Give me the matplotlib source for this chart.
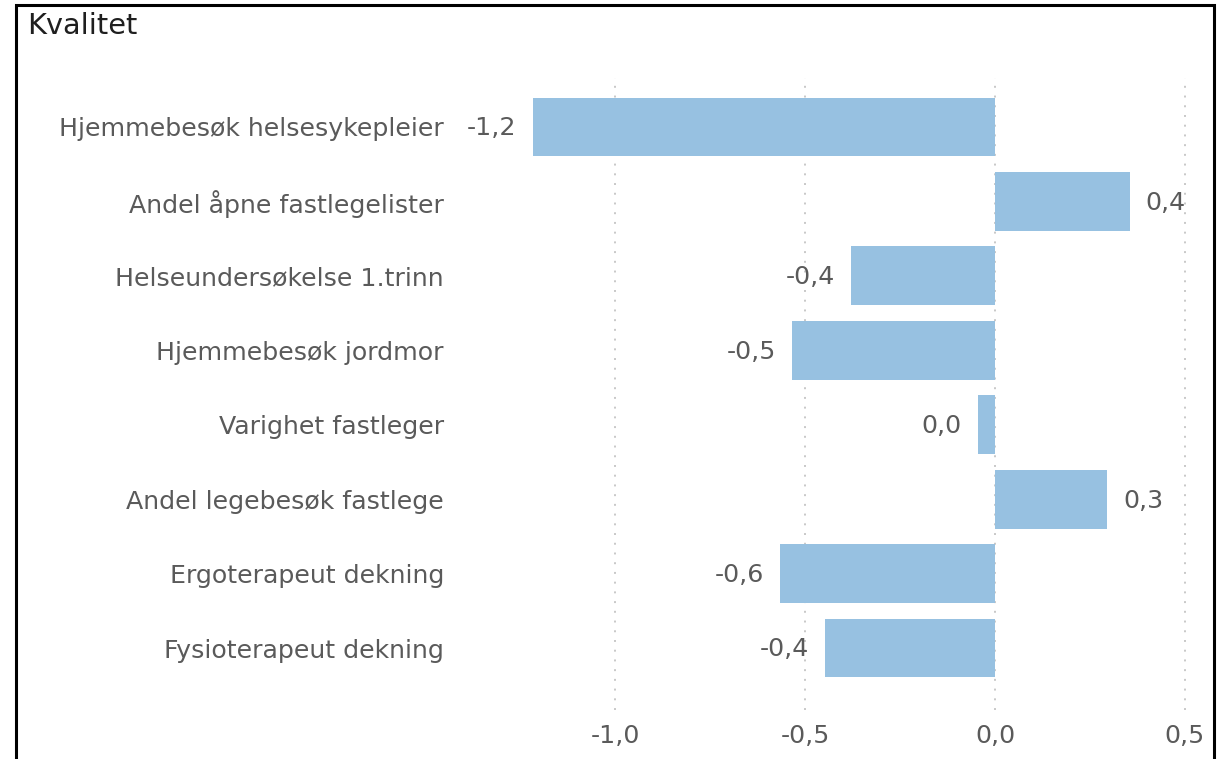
import matplotlib.pyplot as plt
from matplotlib.patches import Rectangle

# values
categories = [
    "Hjemmebesøk helsesykepleier",
    "Andel åpne fastlegelister",
    "Helseundersøkelse 1.trinn",
    "Hjemmebesøk jordmor",
    "Varighet fastleger",
    "Andel legebesøk fastlege",
    "Ergoterapeut dekning",
    "Fysioterapeut dekning",
]
values = [-1.217, 0.355, -0.38, -0.535, -0.045, 0.295, -0.566, -0.447]
xticks = [-1.0, -0.5, 0.0, 0.5]

W, H = 1226, 759
BAR_COLOR = "#97c1e1"
TEXT_GRAY = "#5a5a5a"
FS = 18.2

plt.rcParams["font.family"] = ["DejaVu Sans"]

fig = plt.figure(figsize=(W / 100, H / 100), dpi=100)

# axes placed in pixel terms (left, right, top, bottom)
left, right, top, bottom = 452, 1200, 78, 710
ax = fig.add_axes([left / W, 1 - bottom / H, (right - left) / W, (bottom - top) / H])

ypos = list(range(len(categories)))
ax.barh(ypos, values, height=0.79, color=BAR_COLOR, zorder=2)

px_per_unit = 380.0
ax.set_xlim((left - 995) / px_per_unit, (right - 995) / px_per_unit)
ax.set_ylim(7 + (bottom - 648) / 74.43, -(127 - top) / 74.43)

# value labels next to each bar
for y, v in zip(ypos, values):
    shown = round(v, 1) + 0.0
    txt = f"{shown:.1f}".replace(".", ",")
    if v < 0:
        ax.annotate(txt, (v, y), xytext=(-11.5, -1), textcoords="offset points",
                    ha="right", va="center", fontsize=FS, color=TEXT_GRAY)
    else:
        ax.annotate(txt, (v, y), xytext=(11.5, -1), textcoords="offset points",
                    ha="left", va="center", fontsize=FS, color=TEXT_GRAY)

ax.set_yticks(ypos)
ax.set_yticklabels(categories, fontsize=FS, color=TEXT_GRAY)
ax.set_xticks(xticks)
ax.set_xticklabels([f"{t:.1f}".replace(".", ",") for t in xticks], fontsize=FS, color=TEXT_GRAY)
ax.tick_params(axis="y", length=0, pad=5.8)
ax.tick_params(axis="x", length=0, pad=10)

ax.grid(axis="x", linestyle=(0, (1, 4)), color="#c8c8c8", linewidth=1.4, zorder=1)
ax.set_axisbelow(True)
for s in ax.spines.values():
    s.set_visible(False)

# card frame and title
fig.add_artist(Rectangle((15.5 / W, -0.05), (1214 - 15.5) / W, 1.05 - 4.5 / H,
                         transform=fig.transFigure, fill=False,
                         edgecolor="black", linewidth=2.2, clip_on=False))
fig.text(27 / W, 1 - 26 / H, "Kvalitet", fontsize=20.7, color="#1f1f1f",
         ha="left", va="center")

fig.savefig("out.png", dpi=100)
